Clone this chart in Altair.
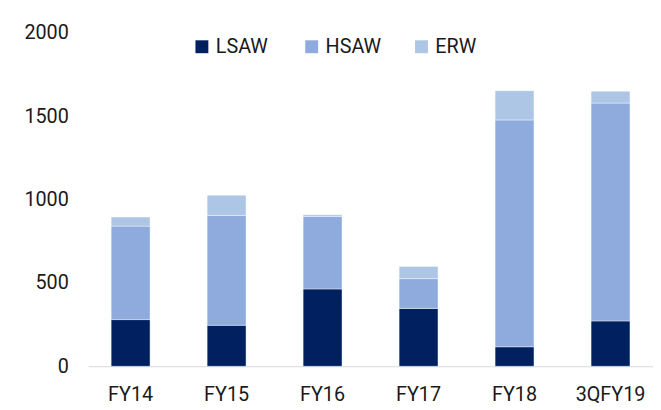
import altair as alt
import pandas as pd

years = ["FY14", "FY15", "FY16", "FY17", "FY18", "3QFY19"]
series = ["LSAW", "HSAW", "ERW"]
lsaw = [280, 246, 464, 347, 117, 272]
hsaw = [561, 659, 435, 179, 1361, 1307]
erw = [54, 121, 10, 73, 175, 71]
colors = ["#002060", "#8FAADC", "#ADC6E5"]

rows = []
for i, y in enumerate(years):
    for k, (s, vals) in enumerate(zip(series, [lsaw, hsaw, erw])):
        rows.append({"year": y, "series": s, "value": vals[i], "ord": k})
df = pd.DataFrame(rows)

FONT = "Roboto"

chart = alt.Chart(df).mark_bar(stroke="white", strokeWidth=0.6, strokeOpacity=0.7).encode(
    x=alt.X("year:N", sort=years,
            scale=alt.Scale(paddingInner=0.595, paddingOuter=0.24),
            axis=alt.Axis(title=None, labelAngle=0, ticks=False, domain=True,
                          domainColor="#D9D9D9", domainWidth=1.2,
                          labelPadding=19, labelFontSize=20, labelFont=FONT,
                          labelColor="#1a1a1a", grid=False)),
    y=alt.Y("value:Q", stack="zero",
            scale=alt.Scale(domain=[0, 2000], nice=False),
            axis=alt.Axis(title=None, values=[0, 500, 1000, 1500, 2000], format="d",
                          ticks=False, domain=False, grid=False,
                          labelPadding=20, labelFontSize=20, labelFont=FONT,
                          labelColor="#1a1a1a")),
    color=alt.Color("series:N", sort=series,
                    scale=alt.Scale(domain=series, range=colors),
                    legend=alt.Legend(title=None, orient="none", direction="horizontal",
                                      legendX=105, legendY=4, symbolType="square",
                                      symbolSize=170, symbolStrokeWidth=0,
                                      labelFontSize=20, labelFont=FONT,
                                      labelColor="#1a1a1a", labelOffset=4,
                                      columnPadding=30, gridAlign="all")),
    order=alt.Order("ord:Q", sort="ascending"),
).properties(
    width=571, height=337,
    padding={"left": 16, "top": 13, "right": 0, "bottom": 0},
).configure_view(stroke=None)

chart.save("out.html", embed_options={"renderer": "svg", "actions": False})
